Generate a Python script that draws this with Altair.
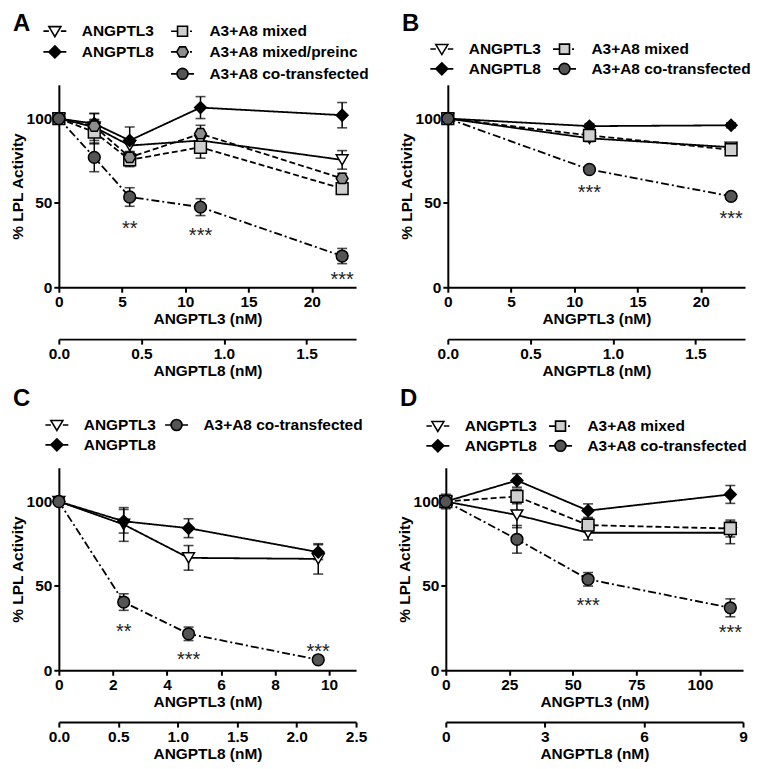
import altair as alt
import pandas as pd

FONT = "Liberation Sans"

# ---------------- data ----------------
SERIES = ["ANGPTL3", "ANGPTL8", "A3+A8 mixed", "A3+A8 mixed/preinc", "A3+A8 co-transfected"]

# Panel A
A_X = [0, 2.8, 5.6, 11.2, 22.4]
A_L3 = [100, 95, 84, 87, 75.5]
A_L3_SEM = [0, 8, 4, 5, 5.5]
A_L8 = [100, 97, 87, 106.5, 102]
A_L8_SEM = [0, 6, 8, 6.5, 7.5]
A_MIX = [100, 92, 75.5, 83, 58.5]
A_MIX_SEM = [0, 7, 4, 6.5, 3]
A_PRE = [100, 95.5, 77, 91, 64.5]
A_PRE_SEM = [0, 4, 3.5, 5, 3]
A_CO = [100, 77, 53.5, 47.5, 18.5]
A_CO_SEM = [0, 8.5, 5.5, 5, 4.5]
A_STAR_X = [5.6, 11.2, 22.4]
A_STAR_Y = [38, 34, 7.7]
A_STAR_T = ["**", "***", "***"]

# Panel B
B_X = [0, 11.2, 22.4]
B_L3 = [100, 88.3, 83]
B_L3_SEM = [0, 2, 1.5]
B_L8 = [100, 95.5, 96]
B_L8_SEM = [0, 1.5, 1.5]
B_MIX = [100, 90, 81.5]
B_MIX_SEM = [0, 1.5, 1.5]
B_CO = [100, 69.8, 53.9]
B_CO_SEM = [0, 1.5, 1.5]
B_STAR_X = [11.2, 22.4]
B_STAR_Y = [59.7, 43.8]
B_STAR_T = ["***", "***"]

# Panel C
C_X = [0, 2.4, 4.8, 9.6]
C_L3 = [100, 86.4, 66.6, 66]
C_L3_SEM = [0, 10, 7.3, 9]
C_L8 = [100, 88.3, 84.2, 70]
C_L8_SEM = [0, 7, 5.6, 4.4]
C_CO = [100, 40.4, 21.6, 6.2]
C_CO_SEM = [0, 4.9, 4, 1]
C_STAR_X = [2.4, 4.8, 9.6]
C_STAR_Y = [26.2, 9.7, 14.5]
C_STAR_T = ["**", "***", "***"]

# Panel D
D_X = [0, 28, 56, 112]
D_L3 = [100, 92, 81.5, 81.5]
D_L3_SEM = [2, 7.5, 4.3, 6.5]
D_L8 = [100, 112.5, 94.6, 104.2]
D_L8_SEM = [4.3, 4, 4, 5.3]
D_MIX = [100, 103, 86, 84]
D_MIX_SEM = [3, 4.3, 4, 5]
D_CO = [100, 77.6, 53.9, 37]
D_CO_SEM = [2, 8.2, 4, 5.3]
D_STAR_X = [56, 112]
D_STAR_Y = [41.9, 25.7]
D_STAR_T = ["***", "***"]

# ---------------- styles ----------------
FILL = {"ANGPTL3": "#ffffff", "ANGPTL8": "#000000", "A3+A8 mixed": "#cfcfcf",
        "A3+A8 mixed/preinc": "#8c8c8c", "A3+A8 co-transfected": "#555555", " ": "#ffffff"}
HEX = "M-1,0L-0.5,-0.87L0.5,-0.87L1,0L0.5,0.87L-0.5,0.87Z"
MARK = {"ANGPTL3": "triangle-down", "ANGPTL8": "diamond", "A3+A8 mixed": "square",
        "A3+A8 mixed/preinc": HEX, "A3+A8 co-transfected": "circle"}
DASH = {"ANGPTL3": [1, 0], "ANGPTL8": [1, 0], "A3+A8 mixed": [6, 3],
        "A3+A8 mixed/preinc": [6, 3], "A3+A8 co-transfected": [8, 3, 2, 3]}
LEG = {
    "ANGPTL3": "M-1.15,0H-0.6M0.6,0H1.15M-0.6,-0.45L0.6,-0.45L0,0.55Z",
    "ANGPTL8": "M-1.15,0H-0.6M0.6,0H1.15M0,-0.6L0.6,0L0,0.6L-0.6,0Z",
    "A3+A8 mixed": "M-1.15,0H-0.55M0.75,0H0.95M-0.5,-0.5H0.5V0.5H-0.5Z",
    "A3+A8 mixed/preinc": "M-1.15,0H-0.58M0.75,0H0.95M-0.58,0L-0.29,-0.5L0.29,-0.5L0.58,0L0.29,0.5L-0.29,0.5Z",
    "A3+A8 co-transfected": "M-1.15,0H-0.55M0.55,0H1.15M-0.55,0A0.55,0.55,0,1,0,0.55,0A0.55,0.55,0,1,0,-0.55,0Z",
    " ": "M0,0",
}

W, H = 298, 203
Y_SCALE = alt.Scale(domain=[0, 120], nice=False, zero=False)
Y_AXIS = alt.Axis(values=[0, 50, 100], title="% LPL Activity")


def panel(letter, xs, series, star_x, star_y, star_t, xdom, xticks,
          sdom, sticks, sfmt, legend_order, lx, ly, cpad, rpad, toff):
    rows = []
    for name, (mean, err) in series.items():
        for xv, m, e in zip(xs, mean, err):
            rows.append({"series": name, "x": xv, "y": m, "lo": m - e, "hi": m + e})
    df = pd.DataFrame(rows)
    base = alt.Chart(df)
    xenc = alt.X("x:Q", scale=alt.Scale(domain=xdom, nice=False, zero=False),
                 axis=alt.Axis(values=xticks, title="ANGPTL3 (nM)", format="d"))

    lines = base.mark_line(color="black", strokeWidth=1.8).encode(
        x=xenc, y=alt.Y("y:Q", scale=Y_SCALE, axis=Y_AXIS),
        strokeDash=alt.StrokeDash("series:N", scale=alt.Scale(domain=SERIES, range=[DASH[s] for s in SERIES]), legend=None),
    )
    eb = base.transform_filter("datum.hi > datum.lo")
    errs = eb.mark_rule(color="black", strokeWidth=1.5).encode(
        x=xenc, y=alt.Y("lo:Q", scale=Y_SCALE, axis=Y_AXIS), y2="hi:Q")
    cap_lo = eb.mark_tick(orient="horizontal", size=10, thickness=1.6, color="black").encode(
        x=xenc, y=alt.Y("lo:Q", scale=Y_SCALE, axis=Y_AXIS))
    cap_hi = eb.mark_tick(orient="horizontal", size=10, thickness=1.6, color="black").encode(
        x=xenc, y=alt.Y("hi:Q", scale=Y_SCALE, axis=Y_AXIS))
    pts = base.mark_point(filled=True, size=140, stroke="black", strokeWidth=1.5, opacity=1).encode(
        x=xenc, y=alt.Y("y:Q", scale=Y_SCALE, axis=Y_AXIS),
        shape=alt.Shape("series:N", scale=alt.Scale(domain=SERIES, range=[MARK[s] for s in SERIES]), legend=None),
        fill=alt.Fill("series:N", scale=alt.Scale(domain=SERIES, range=[FILL[s] for s in SERIES]), legend=None),
    )
    sdf = pd.DataFrame({"x": star_x, "y": star_y, "t": star_t})
    stars = alt.Chart(sdf).mark_text(fontSize=20, dy=6, color="#222222", font=FONT).encode(
        x=xenc, y=alt.Y("y:Q", scale=Y_SCALE, axis=Y_AXIS), text="t:N")

    main = alt.layer(lines, errs, cap_lo, cap_hi, pts, stars)

    leg_def = alt.Legend(
        title=None, orient="none", legendX=lx, legendY=ly, offset=0, columns=2, padding=0,
        symbolSize=400, symbolStrokeWidth=1.6, symbolStrokeColor="black", symbolOpacity=1,
        labelFont=FONT, labelFontSize=15.5, labelFontWeight="bold", labelColor="black",
        labelOffset=16, labelLimit=400, columnPadding=cpad, rowPadding=rpad,
    )
    n = len(legend_order)
    ldf = pd.DataFrame({"series": legend_order, "a8": [sdom[0]] * n})
    leg = alt.Chart(ldf).mark_point(filled=True, size=0).encode(
        x=alt.X("a8:Q", scale=alt.Scale(domain=sdom, nice=False, zero=False),
                axis=alt.Axis(orient="bottom", offset=52, values=sticks, format=sfmt, title="ANGPTL8 (nM)")),
        shape=alt.Shape("series:N", scale=alt.Scale(domain=legend_order, range=[LEG[s] for s in legend_order]), legend=leg_def),
        fill=alt.Fill("series:N", scale=alt.Scale(domain=legend_order, range=[FILL[s] for s in legend_order]), legend=leg_def),
        stroke=alt.Stroke("series:N", scale=alt.Scale(domain=legend_order, range=["#000000"] * n), legend=leg_def),
    )
    return alt.layer(main, leg).resolve_scale(
        x="independent", shape="independent", fill="independent", stroke="independent"
    ).resolve_axis(x="independent").properties(
        width=W, height=H,
        title=alt.TitleParams(letter, anchor="start", frame="group", fontSize=24, fontWeight="bold",
                              font=FONT, color="black", offset=toff, dx=-46),
    )


pA = panel("A", A_X, {"ANGPTL3": (A_L3, A_L3_SEM), "ANGPTL8": (A_L8, A_L8_SEM),
                      "A3+A8 mixed": (A_MIX, A_MIX_SEM), "A3+A8 mixed/preinc": (A_PRE, A_PRE_SEM),
                      "A3+A8 co-transfected": (A_CO, A_CO_SEM)},
           A_STAR_X, A_STAR_Y, A_STAR_T, [0, 23.5], [0, 5, 10, 15, 20],
           [0, 1.8], [0, 0.5, 1.0, 1.5], ".1f",
           ["ANGPTL3", "ANGPTL8", " ", "A3+A8 mixed", "A3+A8 mixed/preinc", "A3+A8 co-transfected"],
           -15, -65, 13, 1, -16)
pB = panel("B", B_X, {"ANGPTL3": (B_L3, B_L3_SEM), "ANGPTL8": (B_L8, B_L8_SEM),
                      "A3+A8 mixed": (B_MIX, B_MIX_SEM), "A3+A8 co-transfected": (B_CO, B_CO_SEM)},
           B_STAR_X, B_STAR_Y, B_STAR_T, [0, 23.5], [0, 5, 10, 15, 20],
           [0, 1.8], [0, 0.5, 1.0, 1.5], ".1f",
           ["ANGPTL3", "ANGPTL8", "A3+A8 mixed", "A3+A8 co-transfected"],
           -17, -47, 8, -1, 2)
pC = panel("C", C_X, {"ANGPTL3": (C_L3, C_L3_SEM), "ANGPTL8": (C_L8, C_L8_SEM),
                      "A3+A8 co-transfected": (C_CO, C_CO_SEM)},
           C_STAR_X, C_STAR_Y, C_STAR_T, [0, 11], [0, 2, 4, 6, 8, 10],
           [0, 2.5], [0, 0.5, 1.0, 1.5, 2.0, 2.5], ".1f",
           ["ANGPTL3", "ANGPTL8", "A3+A8 co-transfected"],
           -13, -54, 5, -1, 3)
pD = panel("D", D_X, {"ANGPTL3": (D_L3, D_L3_SEM), "ANGPTL8": (D_L8, D_L8_SEM),
                      "A3+A8 mixed": (D_MIX, D_MIX_SEM), "A3+A8 co-transfected": (D_CO, D_CO_SEM)},
           D_STAR_X, D_STAR_Y, D_STAR_T, [0, 117], [0, 25, 50, 75, 100],
           [0, 9], [0, 3, 6, 9], "d",
           ["ANGPTL3", "ANGPTL8", "A3+A8 mixed", "A3+A8 co-transfected"],
           -19, -53, 8, -1, 4)

chart = alt.vconcat(
    alt.hconcat(pA, pB, spacing=30),
    alt.hconcat(pC, pD, spacing=30),
    spacing=8,
).properties(padding={"left": 2, "top": 3, "right": 0, "bottom": 0}).configure(font=FONT).configure_view(
    stroke=None
).configure_axis(
    domainColor="black", domainWidth=2, tickColor="black", tickWidth=2, tickSize=5,
    labelFont=FONT, labelFontSize=15.5, labelFontWeight="bold", labelColor="black", labelPadding=2,
    titleFont=FONT, titleFontSize=15.5, titleFontWeight="bold", titleColor="black",
    grid=False, labelFlush=False, labelOverlap=False,
).configure_axisY(titlePadding=1).configure_axisX(titlePadding=2)

chart.save("out.html", embed_options={"renderer": "svg", "actions": False})
